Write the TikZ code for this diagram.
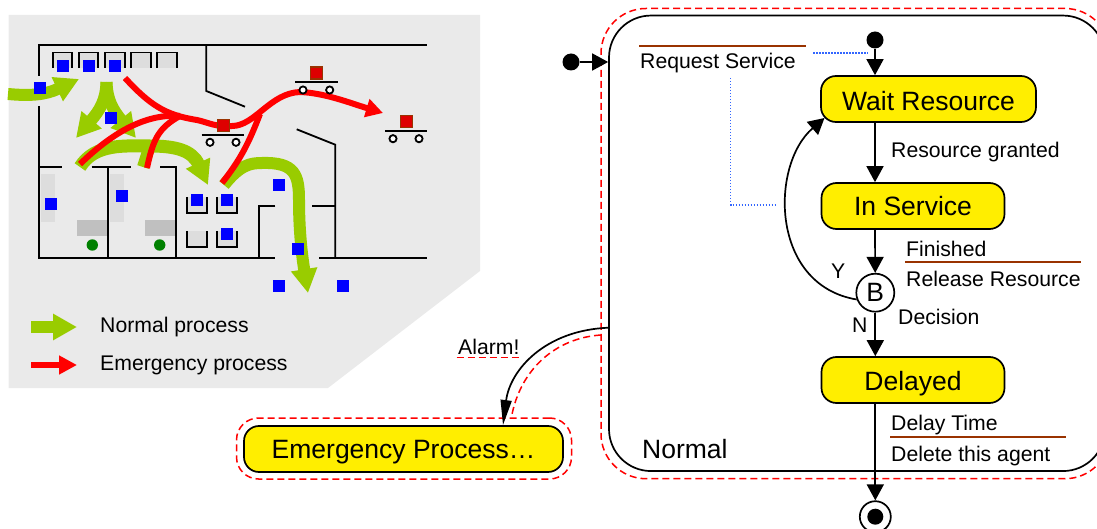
\documentclass[tikz,border=0pt]{standalone}
\usepackage{fontspec}
\setmainfont{Liberation Sans}
\usetikzlibrary{arrows.meta, positioning}
\definecolor{colorgrey}{RGB}{234,234,234}
\definecolor{colorshelf}{RGB}{221,221,221}
\definecolor{colordesk}{RGB}{192,192,192}
\definecolor{colorgreen}{RGB}{153,204,0}
\definecolor{colorbrown}{RGB}{153,51,0}
\definecolor{coloryellow}{RGB}{255,238,0}
\definecolor{colordot}{RGB}{51,102,255}
\tikzset{
    wall/.style={line width=1.8pt},
    greenflow/.style={draw=colorgreen, line width=12pt},
    greentip/.style={-{Triangle[length=24pt,width=25pt,fill=colorgreen]}},
    redflow/.style={draw=red, line width=6pt},
    agent/.style={fill=blue},
    load/.style={fill=red!87!black, draw=colorbrown, line width=1.5pt},
    wheel/.style={fill=white, draw=black, line width=1.8pt},
    flow/.style={line width=1.7pt, -{Triangle[length=16pt,width=17pt]}},
    txt/.style={anchor=base west, inner sep=0pt, font=\fontsize{21.2}{24}\selectfont},
    bigtxt/.style={anchor=base west, inner sep=0pt, font=\fontsize{26.5}{30}\selectfont},
    state/.style={draw, fill=coloryellow, line width=1.7pt, rounded corners=15pt, inner sep=0pt,
        minimum height=46pt, text height=24pt, text depth=5pt, font=\fontsize{26.5}{30}\selectfont},
    guard/.style={draw=red, line width=1.5pt, dash pattern=on 7pt off 4pt},
    effect/.style={draw=colorbrown, line width=2pt},
    note/.style={draw=colordot, line width=1.5pt, dash pattern=on 1.5pt off 1.5pt},
    startdot/.style={circle, fill=black, inner sep=0pt, minimum size=17pt}
}
\begin{document}
\begin{tikzpicture}[x=1pt, y=-1pt]
    \useasboundingbox (0,0) rectangle (1097,529);
    \clip (0,0) rectangle (1097,529);

    \fill [colorgrey] (8.5,15) -- (480,15) -- (480,271) -- (328,388) -- (8.5,388) -- cycle;
    \fill [colorshelf] (40.7,174) rectangle (55,221.7);
    \fill [colorshelf] (110,174) rectangle (124,221.7);
    \fill [colordesk] (77,220) rectangle (106.7,236);
    \fill [colordesk] (145,220) rectangle (175.7,236);
    \fill [green!50!black] (92.3,245) circle (5.7);
    \fill [green!50!black] (159.7,245) circle (5.7);

    \fill [colorshelf] (53,52.5) rectangle (72,68);    \draw [wall] (53,68) |- (72,52.5) -- (72,68);
    \fill [colorshelf] (79,52.5) rectangle (98,68);    \draw [wall] (79,68) |- (98,52.5) -- (98,68);
    \fill [colorshelf] (105,52.5) rectangle (125,68);  \draw [wall] (105,68) |- (125,52.5) -- (125,68);
    \fill [colorshelf] (131,52.5) rectangle (151,68);  \draw [wall] (131,68) |- (151,52.5) -- (151,68);
    \fill [colorshelf] (157,52.5) rectangle (177,68);  \draw [wall] (157,68) |- (177,52.5) -- (177,68);
    \fill [colorshelf] (187,197) rectangle (207,213);  \draw [wall] (187,197) |- (207,213) -- (207,197);
    \fill [colorshelf] (217,197) rectangle (237,213);  \draw [wall] (217,197) |- (237,213) -- (237,197);
    \fill [colorshelf] (187,231) rectangle (207,247);  \draw [wall] (187,231) |- (207,247) -- (207,231);
    \fill [colorshelf] (217,231) rectangle (237,247);  \draw [wall] (217,231) |- (237,247) -- (237,231);

    \draw [wall] (39,76) -- (39,45.3) -- (427,45.3);
    \draw [wall] (39,106) -- (39,258.3) -- (275.3,258.3);
    \draw [wall] (319.3,258.3) -- (427,258.3);
    \draw [wall] (206.3,45.3) -- (206.3,91) -- (245,106.7);
    \draw [wall] (296.7,129.3) -- (335.3,144.7) -- (335.3,258.3);
    \draw [wall] (39,167.3) -- (62.3,167.3);
    \draw [wall] (91.7,167.3) -- (131,167.3);
    \draw [wall] (160,167.3) -- (176,167.3) -- (176,258.3);
    \draw [wall] (107.7,167.3) -- (107.7,258.3);
    \draw [wall] (275.3,205.7) -- (259.3,205.7) -- (259.3,258.3);
    \draw [wall] (312,205.7) -- (335.3,205.7);

    \draw [greenflow, greentip] (8,94) .. controls (30,96) and (45,95) .. (79,79);
    \draw [greenflow, greentip] (106.5,82) .. controls (106,100) and (100,110) .. (76,138);
    \draw [greenflow, greentip] (106.5,82) .. controls (107,100) and (113,110) .. (136,138);
    \draw [greenflow] (143,167) -- (150,145);
    \draw [greenflow, line width=13pt, greentip] (80,167) .. controls (95,143) and (125,146) .. (150,146) .. controls (175,146) and (192,150) .. (208,185);
    \draw [greenflow, greentip] (224,185) .. controls (240,165) and (250,163) .. (262,163) .. controls (295,162) and (299,175) .. (299,200) .. controls (299,225) and (301,250) .. (308,293);

    \draw [redflow] (80,164) .. controls (105,140) and (140,113) .. (180,116);
    \draw [redflow] (147,168) .. controls (153,140) and (158,128) .. (180,116);
    \draw [redflow] (222,183) .. controls (240,160) and (248,145) .. (260,114);
    \draw [redflow, -{Triangle[length=17pt,width=18pt,fill=red]}] (125,78) .. controls (150,105) and (165,115) .. (197,120) .. controls (210,123) and (215,127) .. (232,126) .. controls (255,126) and (270,93) .. (300,92) .. controls (325,93) and (350,103) .. (383,113);

    \filldraw [load] (217.5,119.5) rectangle (229.5,131.5);
    \draw [wall] (201.7,134.7) -- (244.3,134.7);
    \filldraw [wheel] (210,142.3) circle (3.6);
    \filldraw [wheel] (236,142.3) circle (3.6);
    \filldraw [load] (310.5,67) rectangle (322.5,79);
    \draw [wall] (295,82.3) -- (337.7,82.3);
    \filldraw [wheel] (303,90) circle (3.6);
    \filldraw [wheel] (329.7,90) circle (3.6);
    \filldraw [load] (400.5,115.5) rectangle (412.5,127.5);
    \draw [wall] (385,130.7) -- (427.3,130.7);
    \filldraw [wheel] (393,138.7) circle (3.6);
    \filldraw [wheel] (419,138.7) circle (3.6);

    \fill [agent] (34,82) rectangle +(12,12);
    \fill [agent] (57,60) rectangle +(12,12);
    \fill [agent] (83,60) rectangle +(12,12);
    \fill [agent] (109,60) rectangle +(12,12);
    \fill [agent] (105,112) rectangle +(12,12);
    \fill [agent] (45,198) rectangle +(12,12);
    \fill [agent] (116,190) rectangle +(12,12);
    \fill [agent] (191,194) rectangle +(12,12);
    \fill [agent] (221,194) rectangle +(12,12);
    \fill [agent] (221,228) rectangle +(12,12);
    \fill [agent] (273,179) rectangle +(12,12);
    \fill [agent] (292,243) rectangle +(12,12);
    \fill [agent] (273,280) rectangle +(12,12);
    \fill [agent] (337,280) rectangle +(12,12);

    \coordinate (normalkeyfrom) at (31,327);
    \coordinate (normalkeyto) at (77,327);
    \coordinate (emergencykeyfrom) at (31,365);
    \coordinate (emergencykeyto) at (77,365);
    \draw [greenflow, greentip] (normalkeyfrom) -- (normalkeyto);
    \draw [redflow, -{Triangle[length=18pt,width=18pt,fill=red]}] (emergencykeyfrom) -- (emergencykeyto);
    \node [txt] (normalkey) at (100,332) {Normal process};
    \node [txt] (emergencykey) at (100,370) {Emergency process};

    \node [guard, rounded corners=45pt, minimum width=509pt, minimum height=470.2pt, inner sep=0pt] (normalguard) at (855.5,243.6) {};
    \node [draw, line width=1.7pt, rounded corners=42pt, minimum width=496pt, minimum height=455.5pt, inner sep=0pt] (normal) at (857,243.3) {};
    \node [guard, rounded corners=22pt, minimum width=335pt, minimum height=61pt, inner sep=0pt] (emergencyguard) at (404,448.5) {};
    \node [state, minimum width=319pt] (emergency) at (403.5,449) {Emergency Process…};

    \node [state, minimum width=215pt, text height=27pt, text depth=3pt] (wait) at (928.5,99) {Wait Resource};
    \node [state, minimum width=183pt] (service) at (913,206) {In Service};
    \node [state, minimum width=183pt, text height=25pt, text depth=5pt] (delayed) at (913,380) {Delayed};
    \node [circle, draw, fill=white, line width=1.7pt, minimum size=38pt, inner sep=0pt, font=\fontsize{26.5}{30}\selectfont] (decision) at (875.3,292.7) {B};
    \node [startdot] (entry) at (571,62) {};
    \node [startdot] (start) at (875,40) {};
    \node [circle, draw, fill=white, line width=1.7pt, minimum size=31pt, inner sep=0pt] (final) at (875.3,516.7) {};
    \node [circle, fill=black, inner sep=0pt, minimum size=16pt] (finaldot) at (875.3,516.7) {};

    \coordinate (waitcorner) at (824.5,118);
    \coordinate (alarmfrom) at (609,327.7);
    \coordinate (alarmto) at (503,425);
    \coordinate (alarmguardfrom) at (601,335);
    \coordinate (alarmguardto) at (511.5,417);
    \draw [flow] (entry) -- (normal.west |- entry);
    \draw [flow] (start) -- (start |- wait.north);
    \draw [flow] (start |- wait.south) -- (start |- service.north);
    \draw [flow] (start |- service.south) -- (decision);
    \draw [flow] (decision) -- (decision |- delayed.north);
    \draw [flow] (decision |- delayed.south) -- (final);
    \draw [flow] (decision.200) .. controls (770,285) and (770,165) .. (waitcorner);
    \draw [line width=1.7pt, -{Triangle[length=25pt,width=11pt]}] (alarmfrom) .. controls (545,330) and (510,370) .. (alarmto);
    \draw [guard] (alarmguardfrom) .. controls (555,338) and (520,370) .. (alarmguardto);

    \node [txt] (alarm) at (458,354) {Alarm!};
    \coordinate (alarmlinefrom) at (456.5,357.5);
    \coordinate (alarmlineto) at (519,357.5);
    \draw [guard] (alarmlinefrom) -- (alarmlineto);

    \node [txt] (request) at (640,68.5) {Request Service};
    \node [txt] (granted) at (891,157.5) {Resource granted};
    \node [txt] (finished) at (906,256.5) {Finished};
    \node [txt] (release) at (906,286.5) {Release Resource};
    \node [txt] (decisionlabel) at (898,324) {Decision};
    \node [txt] (no) at (852,332) {N};
    \node [txt] (yes) at (831,278) {Y};
    \node [txt] (delaytime) at (891,430) {Delay Time};
    \node [txt] (deleteagent) at (891,461) {Delete this agent};
    \node [bigtxt] (normallabel) at (642,458) {Normal};

    \coordinate (requestlinefrom) at (639,46);
    \coordinate (requestlineto) at (806,46);
    \coordinate (finishedlinefrom) at (905,262);
    \coordinate (finishedlineto) at (1081,262);
    \coordinate (delaylinefrom) at (890,436.5);
    \coordinate (delaylineto) at (1066,436.5);
    \draw [effect] (requestlinefrom) -- (requestlineto);
    \draw [effect] (finishedlinefrom) -- (finishedlineto);
    \draw [effect] (delaylinefrom) -- (delaylineto);

    \coordinate (notefrom) at (813,53);
    \coordinate (noteto) at (868,53);
    \coordinate (noteup) at (730.5,78);
    \coordinate (notecorner) at (730.5,205);
    \coordinate (noteend) at (775,205);
    \draw [note] (notefrom) -- (noteto);
    \draw [note] (noteup) -- (notecorner) -- (noteend);
\end{tikzpicture}
\end{document}
